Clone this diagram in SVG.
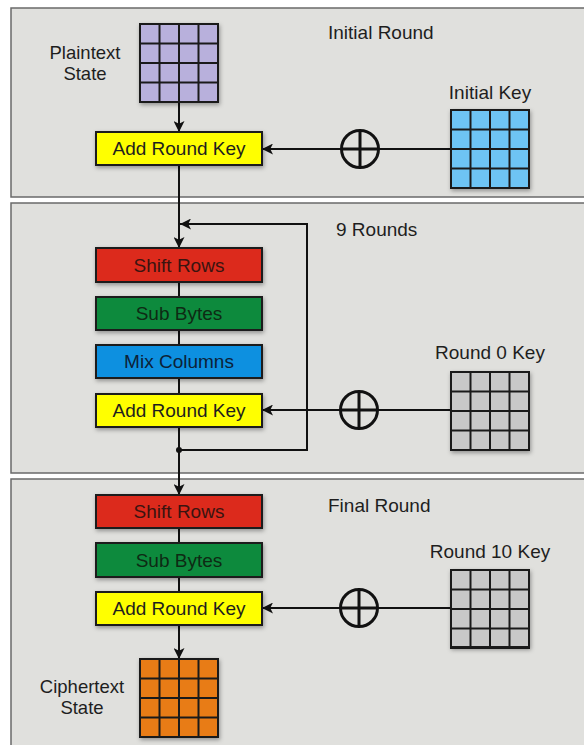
<svg xmlns="http://www.w3.org/2000/svg" width="584" height="745" viewBox="0 0 584 745">
<defs>
<style>
.panel{fill:#e0e0dd;stroke:#6a6a6a;stroke-width:1.5}
.box{stroke:#1a1a1a;stroke-width:2;filter:url(#sh)}
.t{font-family:"Liberation Sans",Arial,sans-serif;font-size:19px;fill:#1e1e1e}
.s{font-size:18.5px}
.c{text-anchor:middle}
.ln{stroke:#111;stroke-width:2;fill:none}
.grid{stroke:#1a1a1a;stroke-width:2}
.xor{fill:none;stroke:#111;stroke-width:3}
</style>
<filter id="sh" x="-20%" y="-20%" width="140%" height="150%">
<feDropShadow dx="1" dy="2" stdDeviation="2" flood-color="#000" flood-opacity="0.35"/>
</filter>
<marker id="ah" viewBox="0 0 10 10" refX="10" refY="5" markerWidth="11" markerHeight="11" markerUnits="userSpaceOnUse" orient="auto">
<path d="M0,0 L10,5 L0,10 L2.5,5 Z" fill="#111"/>
</marker>
<g id="gridlines">
<path d="M19.5,0V78M39,0V78M58.5,0V78M0,19.5H78M0,39H78M0,58.5H78" class="grid" fill="none"/>
<rect x="0" y="0" width="78" height="78" fill="none" class="grid"/>
</g>
<g id="xorsym">
<circle cx="0" cy="0" r="18.5" class="xor"/>
<path d="M-18,0H18M0,-18V18" class="xor"/>
</g>
</defs>
<rect width="584" height="745" fill="#ffffff"/>

<g id="panels">
<rect class="panel" x="11" y="8" width="590" height="189"/>
<rect class="panel" x="11" y="203" width="590" height="270"/>
<rect class="panel" x="11" y="479" width="590" height="290"/>
<text class="t" x="328" y="39">Initial Round</text>
<text class="t" x="336" y="236">9 Rounds</text>
<text class="t" x="328" y="512">Final Round</text>
</g>

<g id="connectors">
<line class="ln" x1="179" y1="102" x2="179" y2="132" marker-end="url(#ah)"/>
<line class="ln" x1="451" y1="149" x2="262" y2="149" marker-end="url(#ah)"/>
<line class="ln" x1="179" y1="165" x2="179" y2="248" marker-end="url(#ah)"/>
<line class="ln" x1="179" y1="282" x2="179" y2="297"/>
<line class="ln" x1="179" y1="330" x2="179" y2="345"/>
<line class="ln" x1="179" y1="378" x2="179" y2="394"/>
<line class="ln" x1="451" y1="410" x2="262" y2="410" marker-end="url(#ah)"/>
<polyline class="ln" points="179,450 307,450 307,224 180,224" marker-end="url(#ah)"/>
<circle cx="179" cy="450" r="3" fill="#111"/>
<line class="ln" x1="179" y1="427" x2="179" y2="495" marker-end="url(#ah)"/>
<line class="ln" x1="179" y1="528" x2="179" y2="543"/>
<line class="ln" x1="179" y1="577" x2="179" y2="592"/>
<line class="ln" x1="451" y1="608" x2="262" y2="608" marker-end="url(#ah)"/>
<line class="ln" x1="179" y1="625" x2="179" y2="659" marker-end="url(#ah)"/>
<use href="#xorsym" x="360" y="149"/>
<use href="#xorsym" x="359" y="410"/>
<use href="#xorsym" x="359" y="608"/>
</g>

<g id="plaintext">
<rect x="140" y="24" width="78" height="78" fill="#b8b0dc" class="box"/>
<use href="#gridlines" x="140" y="24"/>
<text class="t s c" x="85" y="59">Plaintext</text>
<text class="t s c" x="85" y="80">State</text>
</g>

<g id="initialkey">
<rect x="451" y="110" width="78" height="78" fill="#6ec4f4" class="box"/>
<use href="#gridlines" x="451" y="110"/>
<text class="t c" x="490" y="99">Initial Key</text>
</g>

<g id="ark1">
<rect x="96" y="132" width="166" height="33" fill="#ffff00" class="box"/>
<text class="t c" x="179" y="155">Add Round Key</text>
</g>

<g id="shift1">
<rect x="96" y="248" width="166" height="34" fill="#dc2a1e" class="box"/>
<text class="t c" x="179" y="272" style="fill:#3a1410">Shift Rows</text>
</g>
<g id="sub1">
<rect x="96" y="297" width="166" height="33" fill="#0a8a3c" class="box"/>
<text class="t c" x="179" y="320" style="fill:#0e2a14">Sub Bytes</text>
</g>
<g id="mix1">
<rect x="96" y="345" width="166" height="33" fill="#0a90e0" class="box"/>
<text class="t c" x="179" y="368" style="fill:#0c2238">Mix Columns</text>
</g>
<g id="ark2">
<rect x="96" y="394" width="166" height="33" fill="#ffff00" class="box"/>
<text class="t c" x="179" y="417">Add Round Key</text>
</g>

<g id="round0key">
<rect x="451" y="372" width="78" height="78" fill="#c8c8c8" class="box"/>
<use href="#gridlines" x="451" y="372"/>
<text class="t c" x="490" y="359">Round 0 Key</text>
</g>

<g id="shift2">
<rect x="96" y="495" width="166" height="33" fill="#dc2a1e" class="box"/>
<text class="t c" x="179" y="518" style="fill:#3a1410">Shift Rows</text>
</g>
<g id="sub2">
<rect x="96" y="543" width="166" height="34" fill="#0a8a3c" class="box"/>
<text class="t c" x="179" y="567" style="fill:#0e2a14">Sub Bytes</text>
</g>
<g id="ark3">
<rect x="96" y="592" width="166" height="33" fill="#ffff00" class="box"/>
<text class="t c" x="179" y="615">Add Round Key</text>
</g>

<g id="round10key">
<rect x="451" y="570" width="78" height="77" fill="#c8c8c8" class="box"/>
<use href="#gridlines" x="451" y="570"/>
<text class="t c" x="490" y="558">Round 10 Key</text>
</g>

<g id="ciphertext">
<rect x="140" y="659" width="78" height="78" fill="#e87c18" class="box"/>
<use href="#gridlines" x="140" y="659"/>
<text class="t s c" x="82" y="693">Ciphertext</text>
<text class="t s c" x="82" y="714">State</text>
</g>
</svg>
